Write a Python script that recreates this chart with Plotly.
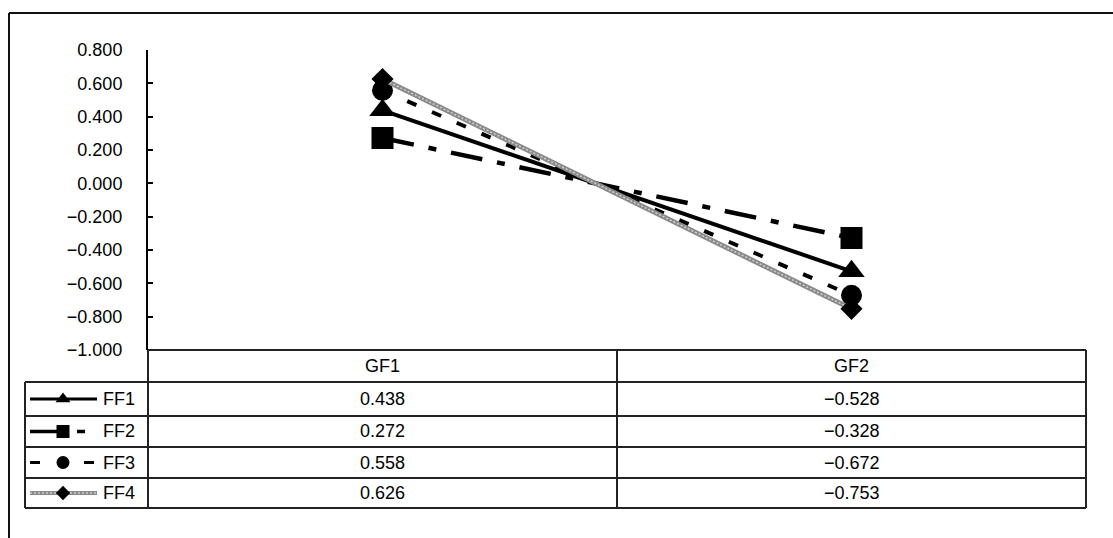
import plotly.graph_objects as go

# ---- data -------------------------------------------------------------
categories = ["GF1", "GF2"]
series_names = ["FF1", "FF2", "FF3", "FF4"]
ff1 = [0.438, -0.528]
ff2 = [0.272, -0.328]
ff3 = [0.558, -0.672]
ff4 = [0.626, -0.753]
y_ticks = [0.8, 0.6, 0.4, 0.2, 0.0, -0.2, -0.4, -0.6, -0.8, -1.0]

series_values = [ff1, ff2, ff3, ff4]

# ---- canvas / layout helpers -----------------------------------------
W, H = 1113, 538
FONT = "Liberation Sans, Arial, sans-serif"
FS = 18


def px(x):
    return x / W


def py(y):
    return 1 - y / H


# plot area (pixel frame)
PLOT_L, PLOT_R = 148, 1086
PLOT_T, PLOT_B = 50, 350
LEG_L = 25
COL_DIV = 617
ROW_Y = [350, 382, 416, 447, 478, 508]

styles = [
    dict(color="#000000", width=4, dash="solid", symbol="triangle-up", size=23, leg_size=13),
    dict(color="#000000", width=4.5, dash="32px,15px,8px,15px", symbol="square", size=22, leg_size=13),
    dict(color="#000000", width=4, dash="10px,17px", symbol="circle", size=21, leg_size=13),
    dict(color="#8a8a8a", width=5, dash="solid", symbol="diamond", size=17, leg_size=11),
]
# light speckle drawn over the grey FF4 line to give it a hatched texture
HATCH = dict(color="#d0d0d0", width=1.5, dash="2px,2px")

fig = go.Figure()

# ---- main series -------------------------------------------------------
for name, vals, st in zip(series_names, series_values, styles):
    fig.add_trace(go.Scatter(
        x=categories, y=vals, name=name, mode="lines",
        line=dict(color=st["color"], width=st["width"], dash=st["dash"]),
        xaxis="x", yaxis="y", showlegend=False, cliponaxis=False,
    ))
    if name == "FF4":
        fig.add_trace(go.Scatter(
            x=categories, y=vals, mode="lines", line=HATCH,
            xaxis="x", yaxis="y", showlegend=False, hoverinfo="skip",
        ))
    fig.add_trace(go.Scatter(
        x=categories, y=vals, name=name, mode="markers",
        marker=dict(symbol=st["symbol"], size=st["size"], color="#000000",
                    line=dict(width=0)),
        xaxis="x", yaxis="y", showlegend=False, cliponaxis=False,
    ))

# ---- legend keys inside the data table (pixel overlay axes) -----------
for i, (name, st) in enumerate(zip(series_names, styles)):
    cy = (ROW_Y[i + 1] + ROW_Y[i + 2]) / 2
    fig.add_trace(go.Scatter(
        x=[30, 63, 97], y=[cy, cy, cy], mode="lines",
        line=dict(color=st["color"], width=st["width"] - 1, dash=st["dash"]),
        xaxis="x2", yaxis="y2", showlegend=False, hoverinfo="skip",
    ))
    if name == "FF4":
        fig.add_trace(go.Scatter(
            x=[30, 63, 97], y=[cy, cy, cy], mode="lines", line=HATCH,
            xaxis="x2", yaxis="y2", showlegend=False, hoverinfo="skip",
        ))
    fig.add_trace(go.Scatter(
        x=[63], y=[cy], mode="markers",
        marker=dict(symbol=st["symbol"], size=st["leg_size"], color="#000000",
                    line=dict(width=0)),
        xaxis="x2", yaxis="y2", showlegend=False, hoverinfo="skip",
    ))

# ---- table grid ---------------------------------------------------------
shapes = []
LC = "#222222"


def hline(x0, x1, y, w=2, color=LC):
    shapes.append(dict(type="line", xref="paper", yref="paper",
                       x0=px(x0), x1=px(x1), y0=py(y), y1=py(y),
                       line=dict(color=color, width=w)))


def vline(x, y0, y1, w=2, color=LC):
    shapes.append(dict(type="line", xref="paper", yref="paper",
                       x0=px(x), x1=px(x), y0=py(y0), y1=py(y1),
                       line=dict(color=color, width=w)))


hline(PLOT_L, PLOT_R, ROW_Y[0])
for y in ROW_Y[1:]:
    hline(LEG_L, PLOT_R, y)
vline(LEG_L, ROW_Y[1], ROW_Y[-1])
vline(PLOT_L, PLOT_B, ROW_Y[-1])
vline(COL_DIV, ROW_Y[0], ROW_Y[-1])
vline(PLOT_R, ROW_Y[0], ROW_Y[-1])

# outer chart frame: only its top and left edges fall inside the page
hline(9, W, 13, color="#111111")
vline(9, 13, H, color="#111111")

# ---- table text ---------------------------------------------------------
annotations = []
hdr_cy = (ROW_Y[0] + ROW_Y[1]) / 2
for c in categories:
    annotations.append(dict(x=c, xref="x", y=py(hdr_cy), yref="paper",
                            text=c, showarrow=False, xanchor="center",
                            yanchor="middle",
                            font=dict(family=FONT, size=FS, color="#000")))

for i, (name, vals) in enumerate(zip(series_names, series_values)):
    cy = (ROW_Y[i + 1] + ROW_Y[i + 2]) / 2
    annotations.append(dict(x=px(101), xref="paper", y=py(cy), yref="paper",
                            text=name, showarrow=False, xanchor="left",
                            yanchor="middle",
                            font=dict(family=FONT, size=FS, color="#000")))
    for c, v in zip(categories, vals):
        txt = f"{v:.3f}".replace("-", "\u2212")
        annotations.append(dict(x=c, xref="x", y=py(cy), yref="paper",
                                text=txt, showarrow=False, xanchor="center",
                                yanchor="middle",
                                font=dict(family=FONT, size=FS, color="#000")))

fig.update_layout(
    width=W, height=H, autosize=False,
    margin=dict(l=0, r=0, t=0, b=0, pad=0, autoexpand=False),
    paper_bgcolor="white", plot_bgcolor="rgba(0,0,0,0)",
    font=dict(family=FONT, size=FS, color="#000"),
    xaxis=dict(domain=[px(PLOT_L), px(PLOT_R)], type="category",
               categoryorder="array", categoryarray=categories,
               range=[-0.5, 1.5], visible=False, fixedrange=True,
               automargin=False),
    yaxis=dict(domain=[py(PLOT_B), py(PLOT_T)], range=[-1.0, 0.8],
               tickvals=y_ticks, tickformat=".3f",
               ticks="inside", ticklen=5, tickwidth=2, tickcolor="#000",
               showline=True, linewidth=2, linecolor="#000",
               showgrid=False, zeroline=False, ticklabelstandoff=20,
               tickfont=dict(family=FONT, size=FS, color="#000"),
               fixedrange=True, automargin=False),
    xaxis2=dict(domain=[0, 1], range=[0, W], visible=False,
                anchor="y2", fixedrange=True, automargin=False),
    yaxis2=dict(domain=[0, 1], range=[H, 0], visible=False,
                anchor="x2", fixedrange=True, automargin=False),
    shapes=shapes,
    annotations=annotations,
    showlegend=False,
)

fig.write_html("out.html")
